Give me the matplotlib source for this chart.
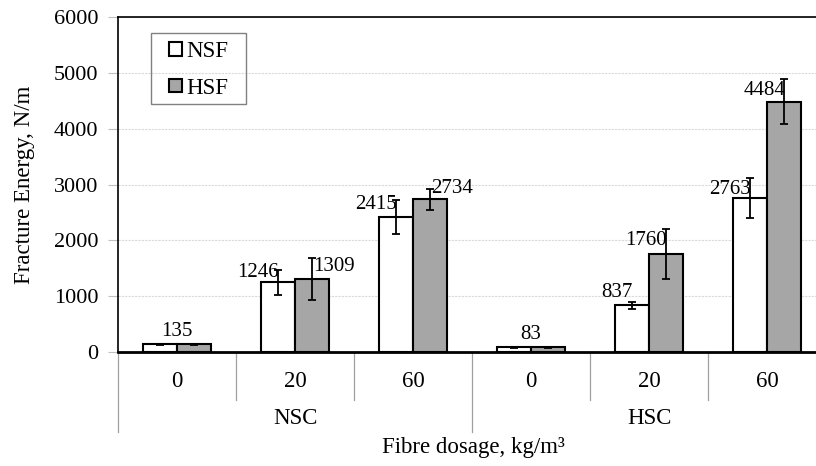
import matplotlib
matplotlib.use("Agg")
import matplotlib.pyplot as plt
from matplotlib.patches import Rectangle
import numpy as np

# ---- data ----
dosage_labels = ["0", "20", "60", "0", "20", "60"]
group_labels = ["NSC", "HSC"]
series_names = ["NSF", "HSF"]
nsf_values = [135, 1246, 2415, 83, 837, 2763]
hsf_values = [135, 1309, 2734, 83, 1760, 4484]
nsf_err = [12, 230, 310, 10, 60, 360]
hsf_err = [12, 370, 190, 10, 450, 400]
yticks = [0, 1000, 2000, 3000, 4000, 5000, 6000]

plt.rcParams['font.family'] = ['Liberation Serif', 'DejaVu Serif']
FS_VAL = 15
FS_TICK = 16
FS_CAT = 16.5
FS_LAB = 16.5
FS_LEG = 16.5

fig = plt.figure(figsize=(8.16, 4.66), dpi=100)
ax = fig.add_axes([118/816, (466-352)/466, 708/816, 335/466])

x = np.arange(len(dosage_labels))
w = 0.29
ek = dict(elinewidth=1.3, capthick=1.3, ecolor='black')
b1 = ax.bar(x - w/2, nsf_values, w, color='white', edgecolor='black', linewidth=1.5,
            yerr=nsf_err, capsize=3, error_kw=ek, label=series_names[0], zorder=3)
b2 = ax.bar(x + w/2, hsf_values, w, color='#a6a6a6', edgecolor='black', linewidth=1.5,
            yerr=hsf_err, capsize=3, error_kw=ek, label=series_names[1], zorder=3)

ax.set_xlim(-0.5, len(x) - 0.5)
ax.set_ylim(0, 6000)
ax.set_yticks(yticks)
ax.set_yticklabels([str(v) for v in yticks], fontsize=FS_TICK)
ax.tick_params(axis='y', length=7, color='#bfbfbf', pad=7)
ax.set_xticks([])
ax.yaxis.grid(True, color='#d9d9d9', linestyle=(0, (2, 1)), linewidth=0.8, zorder=0)
ax.set_axisbelow(True)
for s in ['left', 'top', 'right']:
    ax.spines[s].set_linewidth(1.2)
ax.spines['bottom'].set_linewidth(2)

ax.set_ylabel("Fracture Energy, N/m", fontsize=FS_LAB, labelpad=14)

# value labels
for i in range(len(x)):
    if nsf_values[i] == hsf_values[i] and dosage_labels[i] == "0":
        ax.annotate(str(nsf_values[i]), (x[i], nsf_values[i]), xytext=(0, 13),
                    textcoords='offset pixels', ha='center', va='center', fontsize=FS_VAL)
        continue
    off_n = {1: 3, 2: 5, 4: -9, 5: 12}[i]
    ax.annotate(str(nsf_values[i]), (x[i] - w/2, nsf_values[i] + nsf_err[i]),
                xytext=(1, -off_n), textcoords='offset pixels',
                ha='right', va='center', fontsize=FS_VAL)
    off_h = {1: 8, 2: 0, 4: 12, 5: 11}[i]
    ha = 'left' if i < 3 else 'right'
    ax.annotate(str(hsf_values[i]), (x[i] + w/2, hsf_values[i] + hsf_err[i]),
                xytext=(1, -off_h), textcoords='offset pixels',
                ha=ha, va='center', fontsize=FS_VAL)

# category axis
trans = ax.get_xaxis_transform()
for i in range(len(x)):
    ax.text(x[i], -0.087, dosage_labels[i], transform=trans, ha='center', va='center', fontsize=FS_CAT)
for k in range(len(x) + 1):
    xb = k - 0.5
    y_end = -0.239 if k % 3 == 0 else -0.143
    ax.plot([xb, xb], [0, y_end], transform=trans, color='#a0a0a0', linewidth=0.9, clip_on=False)
for g, name in enumerate(group_labels):
    ax.text(1 + 3*g, -0.2, name, transform=trans, ha='center', va='center', fontsize=FS_CAT)

fig.text(473/816, 1 - 448/466, "Fibre dosage, kg/m\u00b3", ha='center', va='center', fontsize=FS_LAB)

# legend (frameless) + manual frame
leg = ax.legend(loc='upper left', bbox_to_anchor=((169-118)/708, 1 - (41-17)/335),
                fontsize=FS_LEG, frameon=False, handlelength=0.55, handleheight=0.55,
                handletextpad=0.22, labelspacing=0.68, borderpad=0, borderaxespad=0)
ax.add_patch(Rectangle(((151-118)/708, 1 - (104-17)/335), (246-151)/708, (104-33)/335,
                       transform=ax.transAxes, fill=False, edgecolor='#808080',
                       linewidth=1.0, zorder=5))

fig.savefig("out.png", dpi=100)
